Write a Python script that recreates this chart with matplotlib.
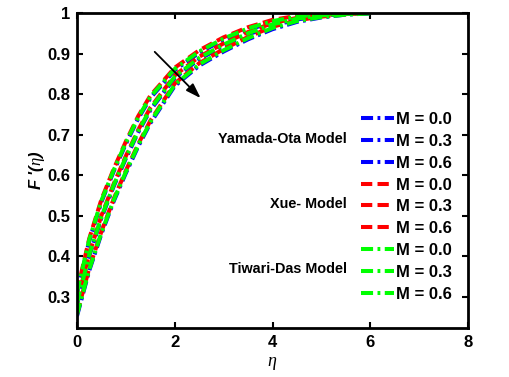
import matplotlib
matplotlib.use('Agg')
import matplotlib.pyplot as plt

plt.rcParams['font.family'] = ['Liberation Sans', 'DejaVu Sans']
plt.rcParams['mathtext.fontset'] = 'custom'
plt.rcParams['mathtext.it'] = 'Liberation Serif:italic'

# eta grid
eta = [0, 0.25, 0.5, 0.75, 1.0, 1.25, 1.5, 2.0, 2.5, 3.0, 3.5, 4.0, 4.5, 5.0, 5.5, 6.0]

# Yamada-Ota model (blue)
yo_m00 = [0.307, 0.437, 0.534, 0.609, 0.677, 0.739, 0.790, 0.859, 0.902, 0.934, 0.959, 0.977, 0.989, 0.996, 0.999, 1.0]
yo_m03 = [0.280, 0.400, 0.494, 0.572, 0.641, 0.705, 0.760, 0.840, 0.886, 0.919, 0.947, 0.969, 0.984, 0.993, 0.998, 1.0]
yo_m06 = [0.252, 0.364, 0.455, 0.535, 0.605, 0.670, 0.728, 0.820, 0.870, 0.905, 0.935, 0.960, 0.978, 0.989, 0.996, 0.999]
# Xue model (red)
xue_m00 = [0.313, 0.443, 0.540, 0.615, 0.683, 0.745, 0.796, 0.865, 0.908, 0.940, 0.965, 0.983, 0.993, 0.998, 1.0, 1.0]
xue_m03 = [0.286, 0.406, 0.500, 0.578, 0.647, 0.711, 0.766, 0.846, 0.892, 0.925, 0.953, 0.975, 0.988, 0.995, 0.999, 1.0]
xue_m06 = [0.258, 0.370, 0.461, 0.541, 0.611, 0.676, 0.734, 0.826, 0.876, 0.911, 0.941, 0.966, 0.982, 0.991, 0.997, 1.0]
# Tiwari-Das model (green)
td_m00 = [0.310, 0.440, 0.537, 0.612, 0.680, 0.742, 0.793, 0.862, 0.905, 0.937, 0.962, 0.980, 0.991, 0.997, 0.999, 1.0]
td_m03 = [0.283, 0.403, 0.497, 0.575, 0.644, 0.708, 0.763, 0.843, 0.889, 0.922, 0.950, 0.972, 0.986, 0.994, 0.998, 1.0]
td_m06 = [0.255, 0.367, 0.458, 0.538, 0.608, 0.673, 0.731, 0.823, 0.873, 0.908, 0.938, 0.963, 0.980, 0.990, 0.996, 0.999]

m_labels = ['M = 0.0', 'M = 0.3', 'M = 0.6']
y_ticks = [0.3, 0.4, 0.5, 0.6, 0.7, 0.8, 0.9, 1.0]
y_ticklabels = ['0.3', '0.4', '0.5', '0.6', '0.7', '0.8', '0.9', '1']
x_ticks = [0, 2, 4, 6, 8]

fig = plt.figure(figsize=(5.1, 3.77), dpi=100)
ax = fig.add_axes([77 / 510, 49 / 377, 391 / 510, 315 / 377])

lw = 2.9
dashdot = (0, (3.0, 1.1, 0.7, 1.1))
dashed = (0, (2.8, 1.3))

for y, lab in zip([yo_m00, yo_m03, yo_m06], m_labels):
    ax.plot(eta, y, color='#0000ff', lw=lw, linestyle=dashdot, label=lab)
for y, lab in zip([xue_m00, xue_m03, xue_m06], m_labels):
    ax.plot(eta, y, color='#ff0000', lw=lw, linestyle=dashed, label=lab)
for y, lab in zip([td_m00, td_m03, td_m06], m_labels):
    ax.plot(eta, y, color='#00ff00', lw=lw, linestyle=dashdot, label=lab)

ax.set_xlim(0, 8)
ax.set_ylim(0.2225, 1.0)
ax.set_xticks(x_ticks)
ax.set_xticklabels([str(v) for v in x_ticks])
ax.set_yticks(y_ticks)
ax.set_yticklabels(y_ticklabels)

for s in ax.spines.values():
    s.set_linewidth(2)
ax.tick_params(direction='in', length=4, width=1.5, top=True, right=True,
               labelsize=12, pad=5)
for t in ax.get_xticklabels() + ax.get_yticklabels():
    t.set_fontweight('bold')

ax.set_xlabel(r'$\eta$', fontsize=13, labelpad=4)
ax.set_ylabel("F '($\\eta$)", fontsize=12, fontweight='bold', style='italic', labelpad=0)

leg = ax.legend(loc='upper left', bbox_to_anchor=(361 / 510, 1 - 112 / 377),
                bbox_transform=fig.transFigure, frameon=False,
                prop={'weight': 'bold', 'size': 12}, handlelength=2.0,
                handletextpad=0.1, labelspacing=0.41, borderpad=0, borderaxespad=0)

ax.text(347 / 510, 1 - 139 / 377, 'Yamada-Ota Model', transform=fig.transFigure,
        ha='right', va='center', fontsize=10.4, fontweight='bold')
ax.text(347 / 510, 1 - 204 / 377, 'Xue- Model', transform=fig.transFigure,
        ha='right', va='center', fontsize=10.4, fontweight='bold')
ax.text(347 / 510, 1 - 269 / 377, 'Tiwari-Das Model', transform=fig.transFigure,
        ha='right', va='center', fontsize=10.4, fontweight='bold')

ax.annotate('', xy=(2.57, 0.785), xytext=(1.55, 0.909),
            arrowprops=dict(arrowstyle='-|>,head_length=0.9,head_width=0.3',
                            color='black', lw=1.3))

fig.savefig('out.png', dpi=100)
